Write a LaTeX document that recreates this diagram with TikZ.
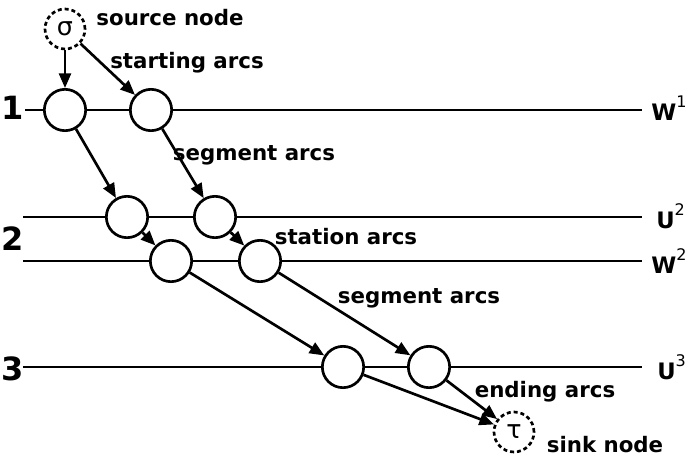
\documentclass[tikz,border=0pt]{standalone}
\usepackage{fontspec}
\setmainfont{DejaVu Sans}
\usetikzlibrary{arrows.meta}

\tikzset{every picture/.style={line width=2pt}}
\tikzset{
  slot/.style={circle,draw,fill=white,minimum size=31pt,inner sep=0pt},
  endpt/.style={circle,draw,dash pattern=on 3pt off 2.2pt,fill=white,minimum size=30pt,inner sep=0pt,font=\fontsize{19}{19}\selectfont},
  arcline/.style={-{Triangle[length=11pt,width=9pt]}},
  lbl/.style={font=\fontsize{16}{16}\selectfont\bfseries},
  stagenum/.style={font=\fontsize{24}{24}\selectfont\bfseries},
  setname/.style={anchor=west,inner sep=0pt,font=\fontsize{17}{17}\selectfont}
}
\newcommand{\setlbl}[2]{\textbf{#1}\raisebox{0.55em}{\fontsize{12}{12}\selectfont #2}}

\begin{document}
\begin{tikzpicture}[x=0.75pt,y=0.75pt,yscale=-1,xscale=1]
\useasboundingbox (0,0) rectangle (686,460);

%Straight Lines: level lines
\coordinate (w1a) at (25,110);  \coordinate (w1b) at (642,110);
\coordinate (u2a) at (23,217);  \coordinate (u2b) at (642,217);
\coordinate (w2a) at (23,261);  \coordinate (w2b) at (642,261);
\coordinate (u3a) at (23,367);  \coordinate (u3b) at (642,367);
\draw (w1a) -- (w1b);
\draw (u2a) -- (u2b);
\draw (w2a) -- (w2b);
\draw (u3a) -- (u3b);

%Shape: Circle (source and sink)
\node[endpt] (src) at (65,29) {σ};
\node[endpt] (snk) at (514,432) {τ};
%Shape: Circle (level nodes)
\node[slot] (w1p) at (65,110) {};
\node[slot] (w1q) at (151,110) {};
\node[slot] (u2p) at (127,217) {};
\node[slot] (u2q) at (215,217) {};
\node[slot] (w2p) at (171,261) {};
\node[slot] (w2q) at (260,261) {};
\node[slot] (u3p) at (343,367) {};
\node[slot] (u3q) at (429,367) {};

%Straight Lines: arcs
\draw[arcline] (src) -- (w1p);
\draw[arcline] (src) -- (w1q);
\draw[arcline] (w1p) -- (u2p);
\draw[arcline] (w1q) -- (u2q);
\draw[arcline] (u2p) -- (w2p);
\draw[arcline] (u2q) -- (w2q);
\draw[arcline] (w2p) -- (u3p);
\draw[arcline] (w2q) -- (u3q);
\draw[arcline] (u3p) -- (snk);
\draw[arcline] (u3q) -- (snk);

% Text Node
\node[stagenum] (s1) at (13,108) {1};
\node[stagenum] (s2) at (13,239) {2};
\node[stagenum] (s3) at (13,369) {3};
% Text Node
\node[setname] (l1) at (650,108) {\setlbl{W}{1}};
\node[setname] (l2) at (655,216) {\setlbl{U}{2}};
\node[setname] (l3) at (650,261) {\setlbl{W}{2}};
\node[setname] (l4) at (656,367) {\setlbl{U}{3}};
% Text Node
\node[lbl] (t1) at (170,18) {source node};
\node[lbl] (t2) at (187,63) {starting arcs};
\node[lbl] (t3) at (254,155) {segment arcs};
\node[lbl] (t4) at (346,237) {station arcs};
\node[lbl] (t5) at (419,298) {segment arcs};
\node[lbl] (t6) at (545,392) {ending arcs};
\node[lbl] (t7) at (605,445) {sink node};

\end{tikzpicture}
\end{document}
